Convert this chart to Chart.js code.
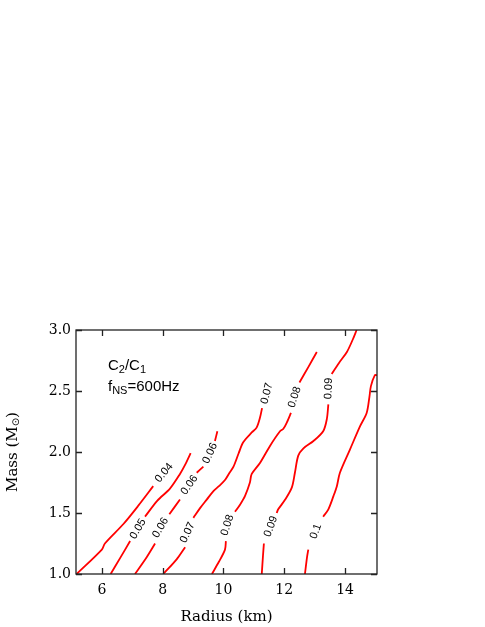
<!DOCTYPE html>
<html><head><meta charset="utf-8">
<script src="https://cdn.jsdelivr.net/npm/chart.js@4.4.1/dist/chart.umd.min.js"></script>
<style>html,body{margin:0;padding:0;background:#fff;}canvas{display:block}</style>
</head><body>
<canvas id="c" width="485" height="627"></canvas>
<script>
// Tick values
const xTicks = [6, 8, 10, 12, 14];
const yTicks = [1.0, 1.5, 2.0, 2.5, 3.0];

// Contour levels (C2/C1) and their traced curves, split into segments at inline labels
const levels = ['0.04', '0.05', '0.06', '0.07', '0.08', '0.09', '0.1'];

const c004 = [
  [[5.17,1.0],[6.0,1.2],[6.1,1.25],[6.71,1.41],[7.2,1.56],[7.69,1.72]]
];
const c005 = [
  [[6.29,1.0],[6.6,1.13],[6.93,1.27]],
  [[7.42,1.47],[7.82,1.6],[8.24,1.7],[8.57,1.82],[8.75,1.9],[8.92,1.99]]
];
const c006 = [
  [[7.09,1.0],[7.48,1.14],[7.75,1.25]],
  [[8.22,1.49],[8.57,1.61]],
  [[9.12,1.83],[9.34,1.88]],
  [[9.72,2.09],[9.8,2.17]]
];
const c007 = [
  [[8.02,1.0],[8.46,1.12],[8.74,1.22]],
  [[9.01,1.46],[9.23,1.54],[9.45,1.61],[9.67,1.68],[9.85,1.72],[10.05,1.77],[10.2,1.83],[10.33,1.88],[10.5,1.99],[10.65,2.08],[10.93,2.16],[11.09,2.2],[11.2,2.28],[11.27,2.36]]
];
const c008 = [
  [[9.62,1.0],[9.85,1.1],[10.05,1.2],[10.08,1.27]],
  [[10.38,1.51],[10.55,1.57],[10.71,1.64],[10.87,1.75],[10.93,1.82],[11.2,1.91],[11.53,2.05],[11.86,2.17],[11.97,2.19],[12.1,2.25],[12.22,2.32]],
  [[12.5,2.57],[12.8,2.7],[13.07,2.82]]
];
const c009 = [
  [[11.26,1.0],[11.3,1.15],[11.33,1.25]],
  [[11.75,1.5],[11.8,1.53],[12.03,1.61],[12.25,1.71],[12.35,1.83],[12.46,1.97],[12.63,2.03],[12.96,2.09],[13.28,2.17],[13.4,2.27],[13.45,2.39]],
  [[13.56,2.64],[13.8,2.73],[14.06,2.82],[14.25,2.92],[14.38,3.0]]
];
const c010 = [
  [[12.68,1.0],[12.75,1.14],[12.79,1.2]],
  [[13.28,1.47],[13.45,1.53],[13.62,1.64],[13.73,1.72],[13.83,1.83],[14.16,2.02],[14.49,2.21],[14.71,2.32],[14.8,2.45],[14.85,2.54],[14.98,2.63],[15.05,2.63]]
];
const curves = [c004, c005, c006, c007, c008, c009, c010];

// Inline contour labels: level text, data position, rotation (deg)
const labelText  = ['0.04','0.05','0.06','0.06','0.06','0.07','0.07','0.08','0.08','0.09','0.09','0.1'];
const labelX     = [8.05, 7.19, 7.93, 8.88, 9.56, 8.82, 11.43, 10.13, 12.34, 11.56, 13.46, 13.04];
const labelY     = [1.83, 1.37, 1.38, 1.73, 1.99, 1.34, 2.48, 1.40, 2.45, 1.39, 2.52, 1.35];
const labelAngle = [-50, -60, -60, -55, -65, -65, -76, -72, -72, -70, -88, -70];

function toData(segs) {
  const out = [];
  segs.forEach((s, i) => {
    if (i > 0) out.push({x: s[0][0], y: null});
    s.forEach(p => out.push({x: p[0], y: p[1]}));
  });
  return out;
}

const datasets = curves.map((segs, i) => ({
  label: levels[i],
  data: toData(segs),
  borderColor: '#ff0000',
  borderWidth: 1.8,
  tension: 0.3,
  spanGaps: false,
  fill: false,
  pointRadius: 0
}));

const deco = {
  id: 'deco',
  afterDraw(chart) {
    const {ctx, chartArea: a, scales: {x, y}} = chart;
    ctx.save();
    ctx.strokeStyle = '#222';
    ctx.lineWidth = 1.3;
    ctx.strokeRect(a.left, a.top, a.right - a.left, a.bottom - a.top);
    const tl = 6;
    ctx.beginPath();
    xTicks.forEach(v => {
      const px = Math.round(x.getPixelForValue(v)) + 0.5;
      ctx.moveTo(px, a.bottom); ctx.lineTo(px, a.bottom - tl);
      ctx.moveTo(px, a.top); ctx.lineTo(px, a.top + tl);
    });
    yTicks.forEach(v => {
      const py = Math.round(y.getPixelForValue(v)) + 0.5;
      ctx.moveTo(a.left, py); ctx.lineTo(a.left + tl, py);
      ctx.moveTo(a.right, py); ctx.lineTo(a.right - tl, py);
    });
    ctx.stroke();

    // contour labels
    ctx.fillStyle = '#000';
    ctx.font = '11px "Liberation Sans", Arial, sans-serif';
    ctx.textAlign = 'center';
    ctx.textBaseline = 'middle';
    labelText.forEach((t, i) => {
      const px = x.getPixelForValue(labelX[i]);
      const py = y.getPixelForValue(labelY[i]);
      ctx.save();
      ctx.translate(px, py);
      ctx.rotate(labelAngle[i] * Math.PI / 180);
      ctx.fillText(t, 0, 0);
      ctx.restore();
    });

    // annotation text
    ctx.textAlign = 'left';
    ctx.textBaseline = 'alphabetic';
    const big = '15px "Liberation Sans", Arial, sans-serif';
    const small = '11px "Liberation Sans", Arial, sans-serif';
    function runs(parts, x0, y0) {
      let cx = x0;
      parts.forEach(([t, sub]) => {
        ctx.font = sub ? small : big;
        ctx.fillText(t, cx, y0 + (sub ? 3 : 0));
        cx += ctx.measureText(t).width;
      });
    }
    runs([['C', 0], ['2', 1], ['/C', 0], ['1', 1]], 108, 370);
    runs([['f', 0], ['NS', 1], ['=600Hz', 0]], 108, 391);

    // axis titles
    const serif = '15px "DejaVu Serif", serif';
    ctx.font = serif;
    ctx.textAlign = 'center';
    ctx.fillText('Radius (km)', (a.left + a.right) / 2, 621);

    ctx.save();
    ctx.translate(17, (a.top + a.bottom) / 2);
    ctx.rotate(-Math.PI / 2);
    const p1 = 'Mass (M', p2 = '\u2299', p3 = ')';
    ctx.font = serif;
    const w1 = ctx.measureText(p1).width, w3 = ctx.measureText(p3).width;
    ctx.font = '10px "DejaVu Sans", sans-serif';
    const w2 = ctx.measureText(p2).width;
    let sx = -(w1 + w2 + w3) / 2;
    ctx.textAlign = 'left';
    ctx.font = serif;
    ctx.fillText(p1, sx, 0); sx += w1;
    ctx.font = '10px "DejaVu Sans", sans-serif';
    ctx.fillText(p2, sx, 2); sx += w2;
    ctx.font = serif;
    ctx.fillText(p3, sx, 0);
    ctx.restore();

    ctx.restore();
  }
};

new Chart(document.getElementById('c'), {
  type: 'line',
  data: {datasets},
  options: {
    responsive: false,
    animation: false,
    layout: {padding: {top: 330, right: 108, left: 0, bottom: 0}},
    plugins: {legend: {display: false}, tooltip: {enabled: false}},
    elements: {point: {radius: 0}},
    scales: {
      x: {
        type: 'linear', min: 5.15, max: 15.05,
        afterFit(s) { s.height = 53; },
        afterBuildTicks(s) { s.ticks = xTicks.map(v => ({value: v})); },
        grid: {display: false, drawTicks: false},
        border: {display: false},
        ticks: {font: {family: '"DejaVu Serif", serif', size: 14}, color: '#000', padding: 8, maxRotation: 0, autoSkip: false, callback: v => String(v)}
      },
      y: {
        type: 'linear', min: 1, max: 3,
        afterFit(s) { s.width = 76; },
        afterBuildTicks(s) { s.ticks = yTicks.map(v => ({value: v})); },
        grid: {display: false, drawTicks: false},
        border: {display: false},
        ticks: {font: {family: '"DejaVu Serif", serif', size: 14}, color: '#000', padding: 5, autoSkip: false, callback: v => Number(v).toFixed(1)}
      }
    }
  },
  plugins: [deco]
});
</script>
</body></html>
